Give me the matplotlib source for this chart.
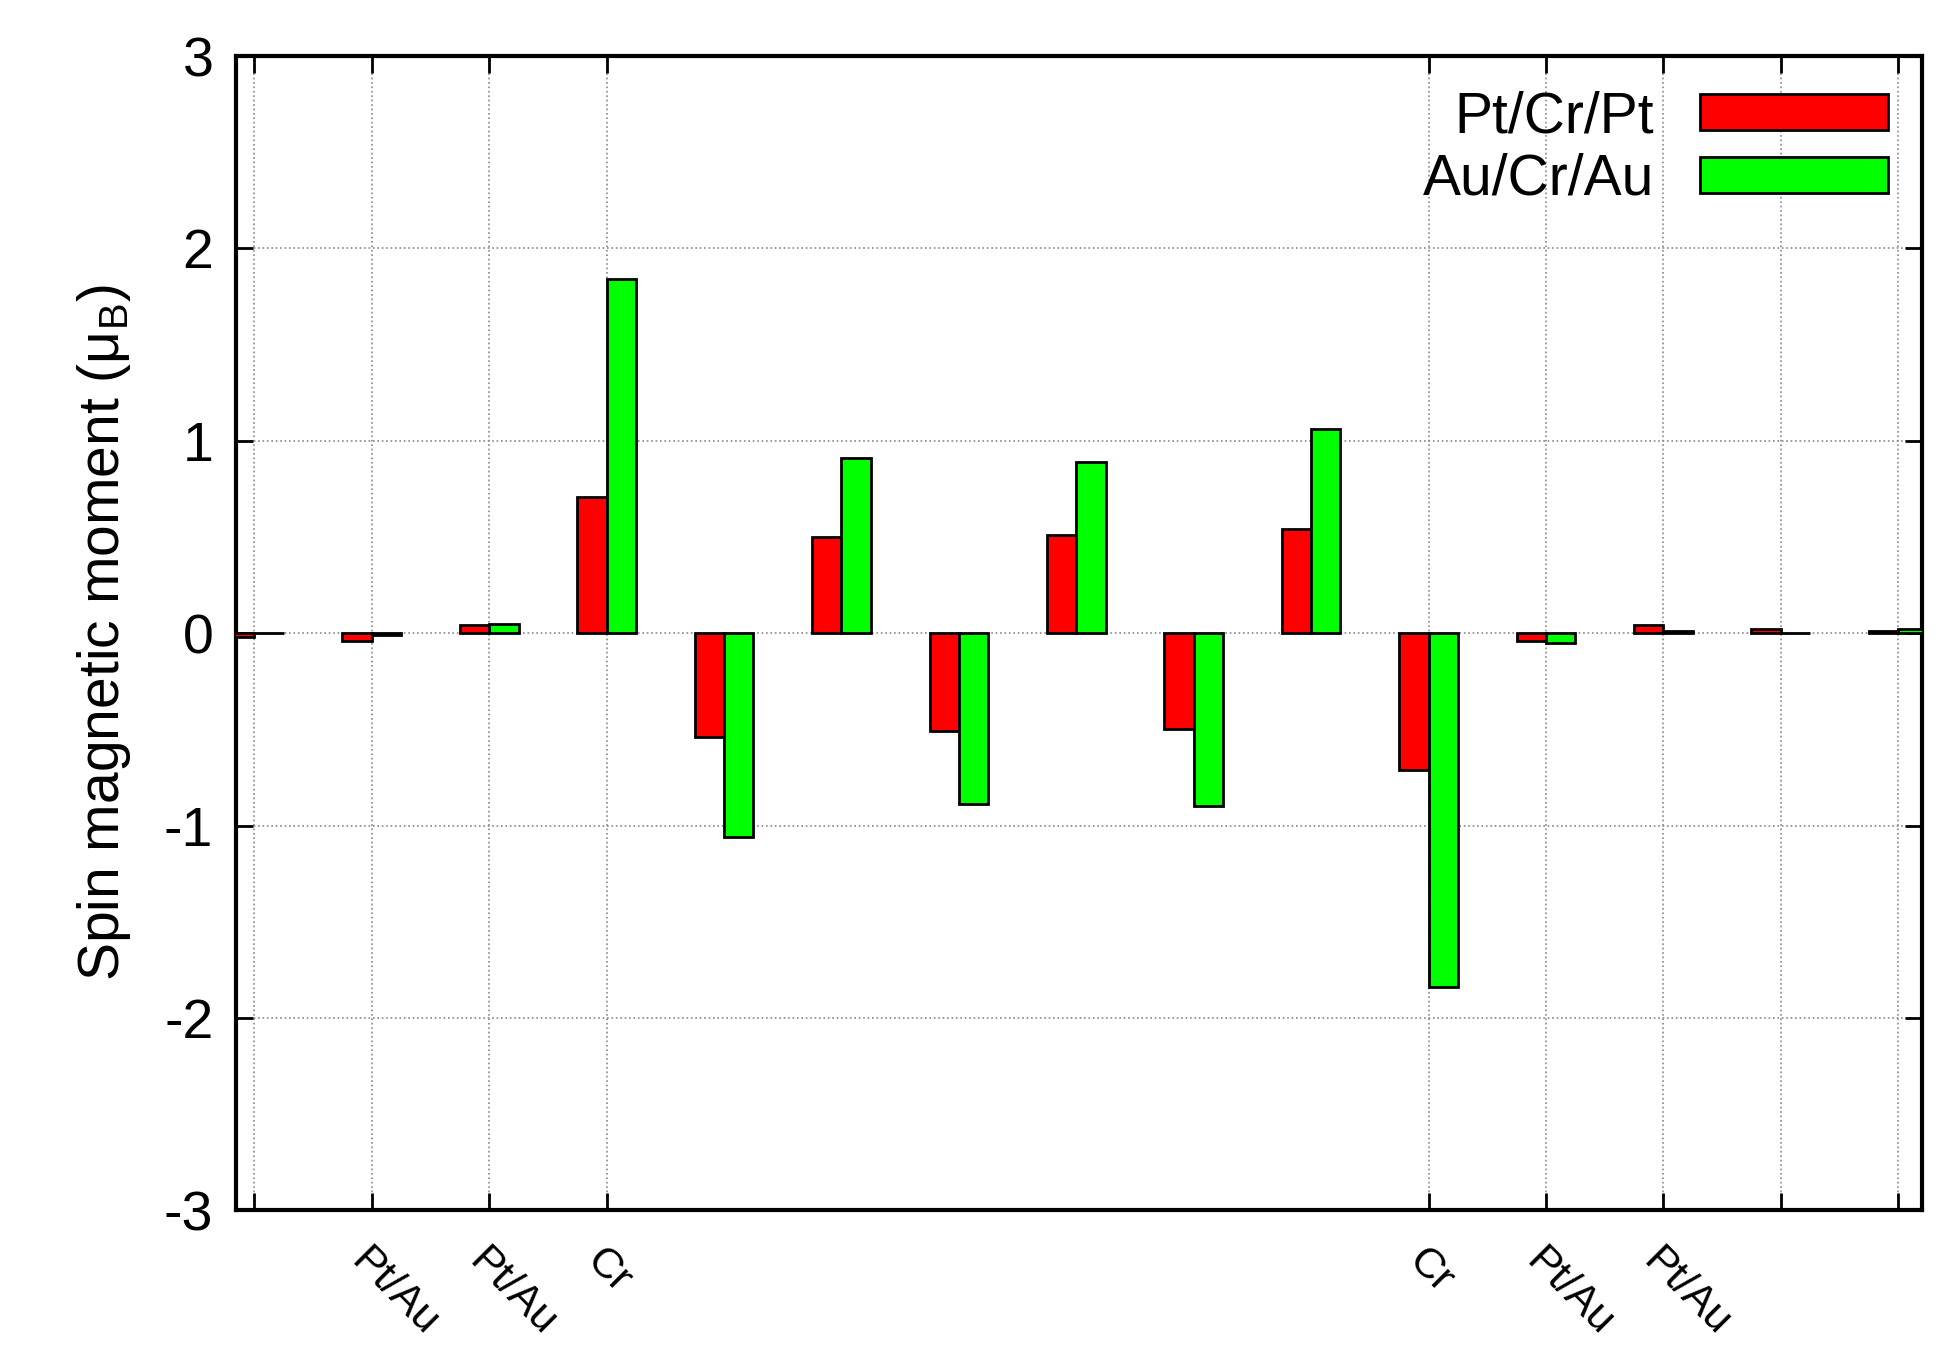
import matplotlib.pyplot as plt
import numpy as np

plt.rcParams['font.family'] = ['Liberation Sans', 'DejaVu Sans']
plt.rcParams['axes.unicode_minus'] = False
plt.rcParams['mathtext.default'] = 'regular'

positions = np.arange(15)
pt_cr_pt = [-0.02, -0.04, 0.04, 0.71, -0.54, 0.50, -0.51, 0.51, -0.50, 0.54, -0.71, -0.04, 0.04, 0.02, 0.01]
au_cr_au = [0.00, -0.01, 0.05, 1.84, -1.06, 0.91, -0.89, 0.89, -0.90, 1.06, -1.84, -0.05, 0.01, 0.00, 0.02]
tick_pos = [0, 1, 2, 3, 10, 11, 12, 13, 14]
tick_labels = ['', 'Pt/Au', 'Pt/Au', 'Cr', 'Cr', 'Pt/Au', 'Pt/Au', '', '']

fig = plt.figure(figsize=(19.47, 13.69), dpi=100)
ax = fig.add_axes([0.121, 0.116, 0.866, 0.843])

w = 0.25
ax.bar(positions - w / 2, pt_cr_pt, w, color='#ff0000', edgecolor='black', linewidth=2, label='Pt/Cr/Pt', zorder=3)
ax.bar(positions + w / 2, au_cr_au, w, color='#00ff00', edgecolor='black', linewidth=2, label='Au/Cr/Au', zorder=3)

ax.set_xlim(-0.16, 14.2)
ax.set_ylim(-3, 3)
ax.set_yticks([-3, -2, -1, 0, 1, 2, 3])
ax.set_xticks(tick_pos)
ax.set_xticklabels(tick_labels, rotation=-45, ha='left', va='top', fontsize=31,
                   rotation_mode='anchor')
ax.tick_params(axis='y', labelsize=40, direction='in', length=12, width=2, right=True, pad=16)
ax.tick_params(axis='x', direction='in', length=12, width=2, top=True, pad=22)
ax.grid(True, linestyle=':', color='#888888', linewidth=1.2, zorder=0)
for s in ax.spines.values():
    s.set_linewidth(3)
ax.set_ylabel('Spin magnetic moment (μ$_B$)', fontsize=41, labelpad=22)

ax.legend(loc='upper right', fontsize=41, frameon=False, markerfirst=False,
          handlelength=3.3, handleheight=0.6, borderaxespad=0.2, labelspacing=0.15,
          handletextpad=0.8)

fig.savefig('out.png')
